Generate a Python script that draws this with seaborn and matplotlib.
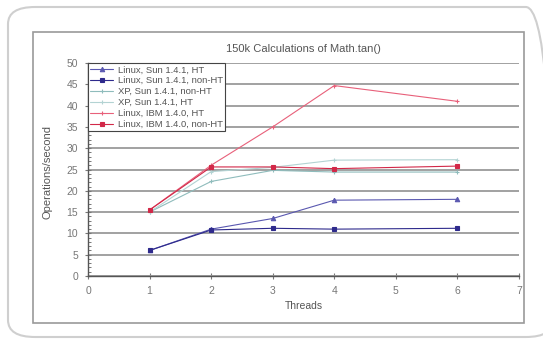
import matplotlib
matplotlib.use("Agg")
import matplotlib.pyplot as plt
import seaborn as sns
import pandas as pd
from matplotlib.patches import FancyBboxPatch, Rectangle
from matplotlib.ticker import MultipleLocator

threads = [1, 2, 3, 4, 6]
series_names = [
    "Linux, Sun 1.4.1, HT",
    "Linux, Sun 1.4.1, non-HT",
    "XP, Sun 1.4.1, non-HT",
    "XP, Sun 1.4.1, HT",
    "Linux, IBM 1.4.0, HT",
    "Linux, IBM 1.4.0, non-HT",
]
linux_sun_ht = [6.0, 11.0, 13.5, 17.8, 18.0]
linux_sun_nonht = [6.0, 10.8, 11.2, 11.0, 11.2]
xp_sun_nonht = [15.0, 22.2, 24.8, 24.4, 24.4]
xp_sun_ht = [15.0, 24.5, 25.5, 27.2, 27.3]
linux_ibm_ht = [15.5, 26.0, 35.0, 44.7, 41.0]
linux_ibm_nonht = [15.5, 25.6, 25.6, 25.2, 25.8]
values = [linux_sun_ht, linux_sun_nonht, xp_sun_nonht, xp_sun_ht, linux_ibm_ht, linux_ibm_nonht]

rows = []
for name, vals in zip(series_names, values):
    for t, v in zip(threads, vals):
        rows.append({"Threads": t, "Operations/second": v, "Series": name})
df = pd.DataFrame(rows)

sns.set_theme(style="white")
plt.rcParams["font.family"] = ["Liberation Sans", "DejaVu Sans"]

colors = ["#5a58b0", "#2e2a8c", "#8fbcbc", "#b3d3d3", "#e8607a", "#d22848"]
markers = ["^", "s", "+", "+", "+", "s"]

fig = plt.figure(figsize=(5.43, 3.40), dpi=100)
fig.patch.set_facecolor("white")

# outer rounded frame
fig.patches.append(FancyBboxPatch((8/543, 3/340), 545/543, 330/340, boxstyle="round,pad=0,rounding_size=0.05",
                                  transform=fig.transFigure, fill=False, edgecolor="#cfcfcf", linewidth=1.5))
# inner chart frame
fig.patches.append(Rectangle((33/543, 1 - 323/340), (524-33)/543, (323-32)/340, transform=fig.transFigure,
                             fill=False, edgecolor="#9a9a9a", linewidth=1.2))

ax = fig.add_axes([88/543, 1 - 276/340, (519-88)/543, (276-63)/340])
ax.set_facecolor("white")

for name, col, m in zip(series_names, colors, markers):
    sub = df[df["Series"] == name]
    sns.lineplot(data=sub, x="Threads", y="Operations/second", color=col, marker=m,
                 linewidth=0.8, markersize=3.2, markeredgewidth=0.8, markeredgecolor=col,
                 label=name, ax=ax)

ax.set_xlim(0, 7)
ax.set_ylim(0, 50)
ax.set_xticks(range(0, 8))
ax.set_yticks(range(0, 51, 5))
ax.yaxis.set_minor_locator(MultipleLocator(1))
ax.yaxis.grid(True, which="major", color="#9a9a9a", linewidth=1.3)
ax.xaxis.grid(False)
for s in ["top", "right"]:
    ax.spines[s].set_visible(False)
for s in ["left", "bottom"]:
    ax.spines[s].set_color("#555555")
    ax.spines[s].set_linewidth(1.0)
ax.tick_params(axis="both", which="major", labelsize=7.5, colors="#777777", length=4, width=0.8,
               direction="inout", left=True, bottom=True, pad=5)
ax.tick_params(axis="y", which="minor", left=True, length=2.5, width=0.7, direction="in", colors="#777777")
ax.set_xlabel("Threads", fontsize=7.5, color="#555555", labelpad=4)
ax.set_ylabel("Operations/second", fontsize=8, color="#555555")
ax.yaxis.set_label_coords(-0.083, 0.49)
ax.set_title("150k Calculations of Math.tan()", fontsize=8, color="#555555", pad=8)

leg = ax.legend(loc="upper left", bbox_to_anchor=(0, 1.0), fontsize=6.8, frameon=True, fancybox=False,
                edgecolor="#444444", framealpha=1, borderpad=0.25, labelspacing=0.2, handlelength=2.4,
                handletextpad=0.5, borderaxespad=0)
leg.get_frame().set_linewidth(0.8)
for t in leg.get_texts():
    t.set_color("#555555")

fig.savefig("out.png", dpi=100, facecolor="white")
